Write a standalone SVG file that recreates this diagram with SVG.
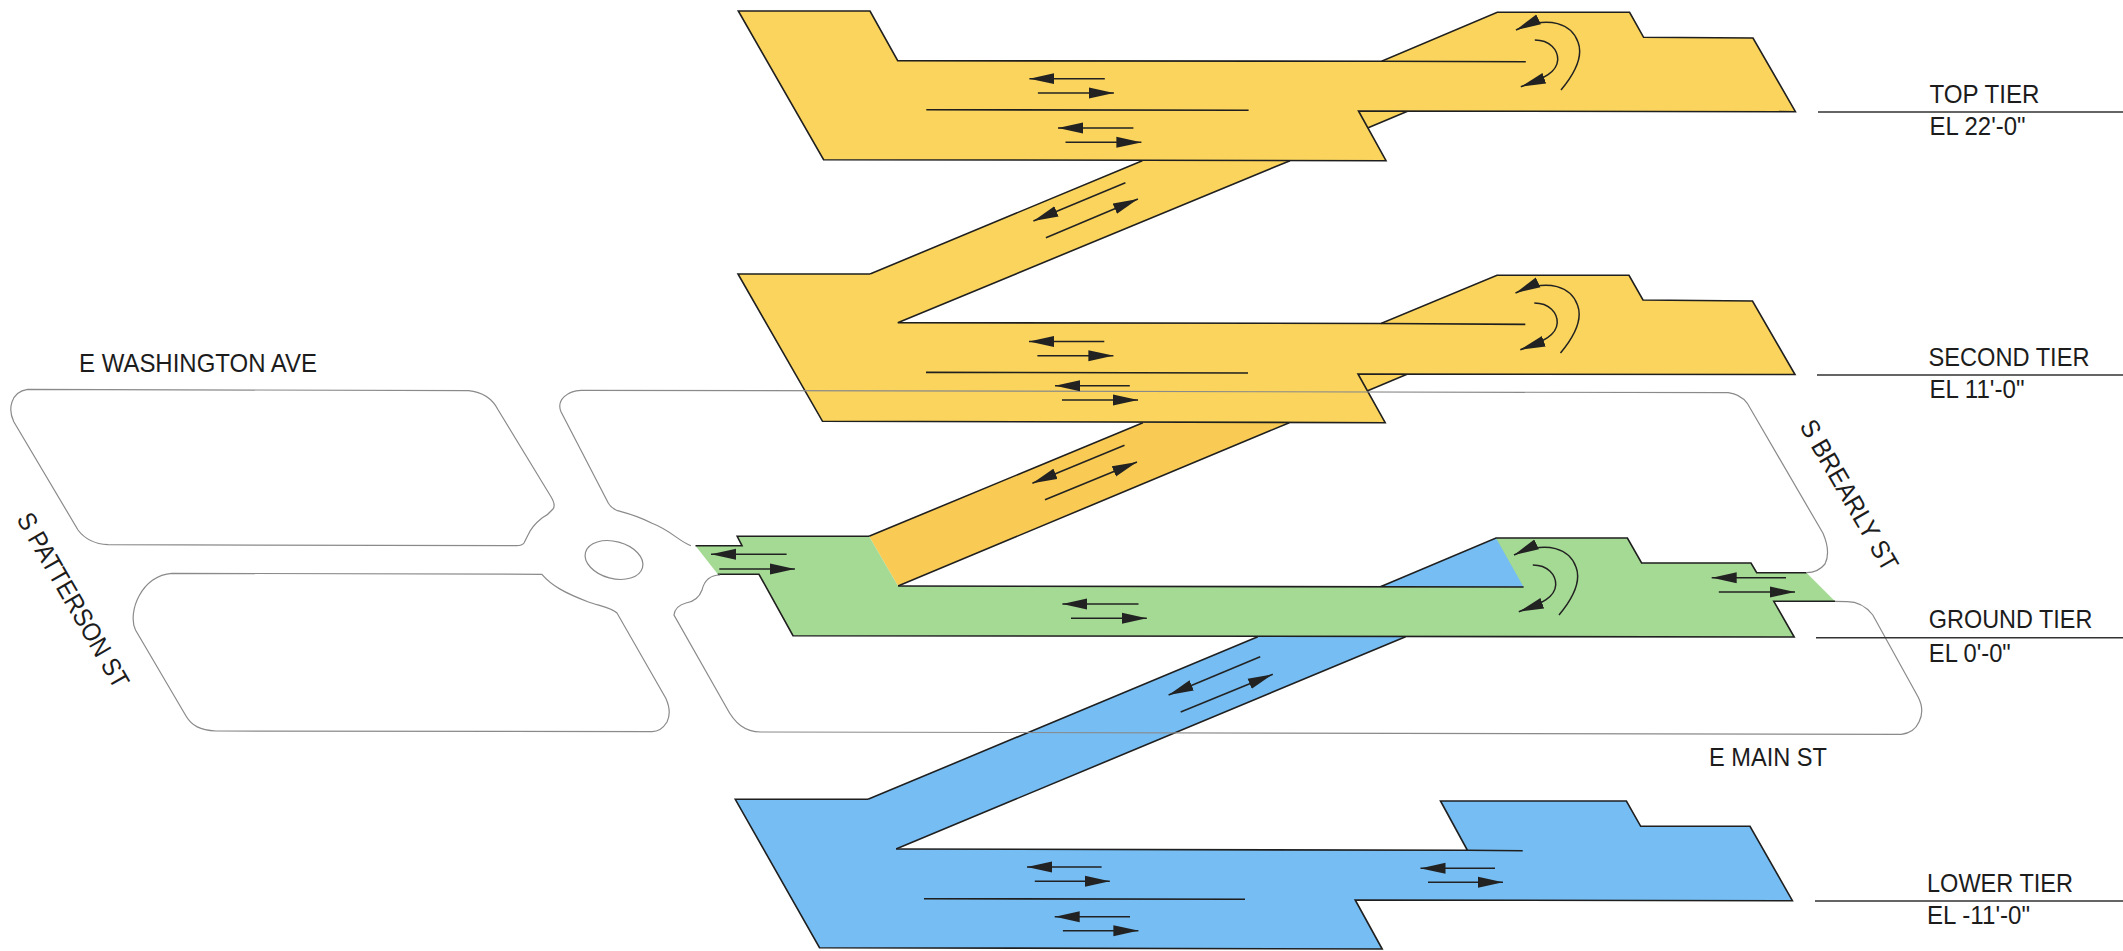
<svg xmlns="http://www.w3.org/2000/svg" width="2123" height="951" viewBox="0 0 2123 951">
<style>
.y{fill:#fad45c}.o{fill:#f9cb54}.g{fill:#a5da94}.b{fill:#75bdf2}
.e{stroke:#1f1f1f;stroke-width:1.6;stroke-linejoin:miter}
.n{fill:none;stroke:#1f1f1f;stroke-width:1.6}
.s{fill:none;stroke:#8a8a8a;stroke-width:1.2}
.a{fill:none;stroke:#222;stroke-width:1.5;marker-end:url(#h)}
.l{fill:none;stroke:#333;stroke-width:1.6}
text{font-family:"Liberation Sans",Arial,sans-serif;font-size:26px;fill:#1c1c1c}
</style>
<defs><marker id="h" markerUnits="userSpaceOnUse" markerWidth="25" markerHeight="12" refX="25" refY="6" orient="auto"><path d="M0,.5L25,6L0,11.5z" fill="#222"/></marker></defs>

<g id="ramp-lower-ground">
<polygon class="b" points="1257.8,636.7 1405.6,636.7 896,849 885,845 860,805 868,799.3"/>
<path class="n" d="M1257.8,636.7L868,799.3M1405.6,636.7L896,849"/>
</g>
<g id="ramp-ground-second">
<polygon class="o" points="1142.9,422.7 1289.3,422.7 898,586 869,536.3"/>
<path class="n" d="M1142.9,422.7L869,536.3M1289.3,422.7L898,586"/>
</g>
<g id="ramp-second-top">
<polygon class="y" points="1142.3,160.7 1290,160.7 897.7,322.7 885,318 862,280 870,274"/>
<path class="n" d="M1142.3,160.7L870,274M1290,160.7L897.7,322.7"/>
</g>

<g id="top-tier">
<polygon class="y" points="1358.5,111 1368.2,127.7 1407.5,111"/>
<path class="n" d="M1368.2,127.7L1407.5,111.3"/>
<path class="y e" d="M738.3,11L870,11L897.7,60.7L1381.6,61.3L1497.3,12.3L1629.6,12.3L1643.6,37.3L1753,38L1795.4,111.7L1358.5,111L1386,160.7L823.6,159.7Z"/>
<path class="n" d="M1381.6,61.3L1525.8,61.7M926.3,109.7L1248.6,110.3"/>
</g>
<g id="second-tier">
<polygon class="y" points="1358,374 1367.7,390.7 1407,374"/>
<path class="n" d="M1367.7,390.7L1407,374.3"/>
<path class="y e" d="M897.7,322.7L1381,323.5L1497,275.3L1629,275.3L1643,300L1752.5,301L1795,374.5L1358,374L1385.2,422.7L822.5,421.3L738,274L870,274"/>
<path class="n" d="M1381,323.5L1525.3,324.4M926,372.4L1248,373"/>
</g>
<g id="ground-tier">
<polygon class="g" points="695.5,545.7 742,545.7 737.2,536.3 869,536.3 898,586 1380.4,586.7 1496,538 1627.4,538 1641.6,563 1751,563 1756.7,572.7 1806.5,572.7 1835,601.3 1773.8,601.3 1794.2,637 793,635.7 759,574.3 717.8,574.3"/>
<polygon class="b" points="1380.4,586.7 1496,538 1523.6,587"/>
<path class="n" d="M695.5,545.7L742,545.7L737.2,536.3L869,536.3M898,586L1523.6,587M1380.4,586.7L1496,538L1627.4,538L1641.6,563L1751,563L1756.7,572.7L1806.5,572.7M1835,601.3L1773.8,601.3L1794.2,637L793,635.7L759,574.3L717.8,574.3"/>
</g>
<g id="lower-tier">
<path class="b e" d="M896,849L1467.4,850.3L1440.5,801L1626.4,801L1640.7,826.3L1750,826.3L1792.4,900.7L1355.2,900L1382.2,949L819.5,947.7L735.3,799.3L868,799.3"/>
<path class="n" d="M1467.4,850.3L1522.7,850.7M924,898.7L1245,899.3"/>
</g>

<g id="streets">
<path id="block-nw" class="s" d="M27.6,389.3L468.4,390.7C482,392 492,398 498.2,410L551,496.7Q556,505 553,509Q548,515 542,518Q532,526 528,535L524,543Q522,545.7 516.6,545.7L108,544.7C94,544 84,538 78,530L13.8,421.7C8,410 10,392 27.6,389.3Z"/>
<path id="block-sw" class="s" d="M172,573.3L541.9,574.3C552,586 565,593 587.8,601.7C600,606 612,608 617,613L665.8,698.3Q672,712 667,722Q661,731.7 652,731.7L215.8,731C200,730 192,726 186,716L135.5,630C127,612 142,575 172,573.3Z"/>
<ellipse id="circle" class="s" cx="614" cy="560" rx="29.5" ry="18.5" transform="rotate(15 614 560)"/>
<path id="block-ne" class="s" d="M691,545.7C680,542 670,530 652,523.3C636,515 622,512 617.6,510.7Q611,508 608.4,503.3L561,411.7C556,400 568,390.5 581,390.3L1728.3,392.7Q1740,394 1747.3,403.3L1823,533.3Q1831,552 1825,564Q1818,572.7 1806.5,572.7"/>
<path id="block-se" class="s" d="M720,575C708,575 704,582 702,590Q698,601 686,603Q675,606 674,615L726,706.7C735,724 745,731.7 760.8,732L1901.3,734.3Q1914,733 1919,722Q1925,710 1918,696.7L1872.8,615Q1862,601.5 1846.8,601.7L1835,601.3"/>
</g>

<g id="connectors">
<path class="a" d="M1104.8,78.7H1029.4"/><path class="a" d="M1037.9,93H1113.9"/>
<path class="a" d="M1133.4,128H1058"/><path class="a" d="M1065.5,142.3H1141.4"/>
<path class="a" d="M1125.4,182.7L1033.4,221"/><path class="a" d="M1045.9,237.7L1137.9,199"/>
<path class="a" d="M1104.3,341.4H1029"/><path class="a" d="M1037.4,355.7H1113.4"/>
<path class="a" d="M1129.8,385.7H1055"/><path class="a" d="M1062,400H1138"/>
<path class="a" d="M1124.5,445.3L1032.4,483.3"/><path class="a" d="M1045,499.7L1137,462"/>
<path class="a" d="M786.6,554.3H711"/><path class="a" d="M719.3,569H794.9"/>
<path class="a" d="M1138.5,604H1062.4"/><path class="a" d="M1071,618.3H1146.8"/>
<path class="a" d="M1786,577.7H1711.7"/><path class="a" d="M1718.8,592H1795"/>
<path class="a" d="M1260.2,656.7L1168.6,695"/><path class="a" d="M1180.7,712L1272.8,674.3"/>
<path class="a" d="M1101.6,867H1027"/><path class="a" d="M1034.8,881.3H1109.8"/>
<path class="a" d="M1130,916.7H1054.7"/><path class="a" d="M1062.9,930.7H1138.4"/>
<path class="a" d="M1495,868.3H1420.5"/><path class="a" d="M1428,882.3H1503"/>
<g id="turn-top"><path class="a" d="M1561,90C1576,72 1583,55 1578,42C1572,25 1550,14 1516,30"/><path class="a" d="M1534.8,40C1550,40 1558,50 1557.7,60C1557,72 1545,78 1520.8,86.7"/></g>
<g id="turn-second" transform="translate(-.5 263)"><path class="a" d="M1561,90C1576,72 1583,55 1578,42C1572,25 1550,14 1516,30"/><path class="a" d="M1534.8,40C1550,40 1558,50 1557.7,60C1557,72 1545,78 1520.8,86.7"/></g>
<g id="turn-ground" transform="translate(-2 525)"><path class="a" d="M1561,90C1576,72 1583,55 1578,42C1572,25 1550,14 1516,30"/><path class="a" d="M1534.8,40C1550,40 1558,50 1557.7,60C1557,72 1545,78 1520.8,86.7"/></g>
</g>

<g id="labels">
<path class="l" d="M1818,112H2123M1817,375H2123M1816,637.7H2123M1815,901H2123"/>
<text x="1929.5" y="103.3" textLength="110" lengthAdjust="spacingAndGlyphs">TOP TIER</text>
<text x="1929.5" y="135" textLength="96" lengthAdjust="spacingAndGlyphs">EL 22'-0"</text>
<text x="1928.5" y="366" textLength="161" lengthAdjust="spacingAndGlyphs">SECOND TIER</text>
<text x="1929.5" y="398" textLength="95" lengthAdjust="spacingAndGlyphs">EL 11'-0"</text>
<text x="1928.8" y="628.3" textLength="163.5" lengthAdjust="spacingAndGlyphs">GROUND TIER</text>
<text x="1928.8" y="661.7" textLength="82" lengthAdjust="spacingAndGlyphs">EL 0'-0"</text>
<text x="1927" y="891.7" textLength="146" lengthAdjust="spacingAndGlyphs">LOWER TIER</text>
<text x="1927" y="924.3" textLength="103" lengthAdjust="spacingAndGlyphs">EL -11'-0"</text>
<text x="1709" y="765.7" textLength="118" lengthAdjust="spacingAndGlyphs">E MAIN ST</text>
<text x="79" y="372.3" textLength="238" lengthAdjust="spacingAndGlyphs">E WASHINGTON AVE</text>
<text x="16" y="519" textLength="198" lengthAdjust="spacingAndGlyphs" transform="rotate(60 16 519)">S PATTERSON ST</text>
<text x="1799" y="426" textLength="170" lengthAdjust="spacingAndGlyphs" transform="rotate(60 1799 426)">S BREARLY ST</text>
</g>
</svg>
